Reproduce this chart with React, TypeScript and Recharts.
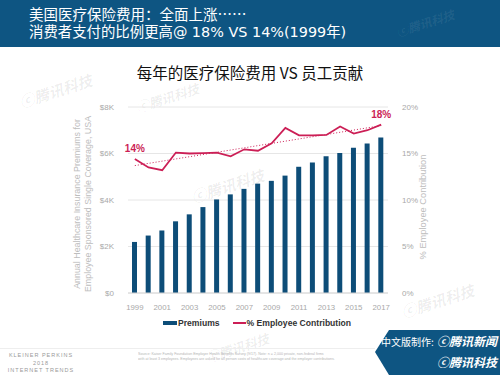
import { ComposedChart, Bar, Line, XAxis, YAxis, CartesianGrid, LabelList } from "recharts"

// values (KFF employer survey)
const years = ["1999", "2000", "2001", "2002", "2003", "2004", "2005", "2006", "2007", "2008", "2009", "2010", "2011", "2012", "2013", "2014", "2015", "2016", "2017"]
const premiums = [2196, 2471, 2689, 3083, 3383, 3695, 4024, 4242, 4479, 4704, 4824, 5049, 5429, 5615, 5884, 6025, 6251, 6435, 6690]
const employeeShare = [14.4, 13.5, 13.2, 15.1, 15.0, 15.05, 15.1, 14.7, 15.45, 15.3, 16.1, 17.75, 16.95, 16.95, 17.0, 17.9, 17.15, 17.5, 18.1]
const trendEnds = [13.7, 18.0] // dotted trend line, first and last year
const pointNotes = ["14%", "18%"]

const leftTicks = [0, 2000, 4000, 6000, 8000]
const rightTicks = [0, 5, 10, 15, 20]

const BLUE = "#0d4d78"
const RED = "#cc1f56"
const GRAY = "#a9a9a9"
const FONT = "'Liberation Sans', Arial, sans-serif"
const CJK = "'Noto Sans CJK SC', sans-serif"

const data = years.map((year, i) => ({
  year,
  premium: premiums[i],
  share: employeeShare[i],
  trend: i === 0 ? trendEnds[0] : i === years.length - 1 ? trendEnds[1] : null,
  note: i === 0 ? pointNotes[0] : i === years.length - 1 ? pointNotes[1] : "",
}))

const Watermark = ({ x, y, size = 15, color = "rgba(0,0,0,0.07)" }: any) => (
  <div style={{ position: "absolute", left: x, top: y, fontFamily: CJK, fontWeight: 700, fontStyle: "italic", fontSize: size, color, transform: "rotate(-18deg)", whiteSpace: "nowrap" }}>
    ⓒ腾讯科技
  </div>
)

const renderNote = (props: any) => {
  const { x, y, value } = props
  if (!value) return null
  return (
    <text x={x} y={y - 7} textAnchor="middle" fill={RED} fontSize={10} fontWeight={700} fontFamily={FONT}>
      {value}
    </text>
  )
}

export default function App() {
  return (
    <div style={{ position: "absolute", left: 0, top: 0, width: 500, height: 375, background: "#fff", overflow: "hidden" }}>
      {/* header band */}
      <div style={{ position: "absolute", left: 0, top: 0, width: 500, height: 47, background: "#0e5582", color: "#fff", fontSize: 14.5, lineHeight: "19px", paddingLeft: 29, paddingTop: 4, boxSizing: "border-box" }}>
        <div style={{ fontFamily: CJK }}>美国医疗保险费用：全面上涨……</div>
        <div style={{ fontFamily: "'DejaVu Sans', 'Noto Sans CJK SC', sans-serif", fontSize: 14.4 }}>消费者支付的比例更高@ 18% VS 14%(1999年)</div>
      </div>
      <Watermark x={395} y={14} size={12} color="rgba(255,255,255,0.08)" />

      <div style={{ position: "absolute", left: 0, top: 61, width: 500, textAlign: "center", fontFamily: CJK, fontSize: 15.5, color: "#111" }}>
        每年的医疗保险费用 VS 员工贡献
      </div>

      <Watermark x={18} y={80} />
      <Watermark x={135} y={88} size={13} />
      <Watermark x={190} y={175} />
      <Watermark x={400} y={290} />
      <Watermark x={205} y={338} size={13} />

      <ComposedChart
        width={500}
        height={375}
        data={data}
        margin={{ top: 107, right: 52, left: 68, bottom: 62 }}
        style={{ position: "absolute", left: 0, top: 0 }}
      >
        <CartesianGrid vertical={false} stroke="#e6e6e6" yAxisId="left" />
        <XAxis
          dataKey="year"
          interval={1}
          tickLine={false}
          axisLine={{ stroke: "#d6d6d6" }}
          tickMargin={5}
          height={20}
          tick={{ fill: GRAY, fontSize: 7.8, fontFamily: FONT }}
        />
        <YAxis
          yAxisId="left"
          domain={[0, 8000]}
          ticks={leftTicks}
          tickFormatter={(v: number) => (v === 0 ? "$0" : `$${v / 1000}K`)}
          tickLine={false}
          axisLine={false}
          tickMargin={8}
          width={60}
          tick={{ fill: GRAY, fontSize: 8, fontFamily: FONT }}
        />
        <YAxis
          yAxisId="right"
          orientation="right"
          domain={[0, 20]}
          ticks={rightTicks}
          tickFormatter={(v: number) => `${v}%`}
          tickLine={false}
          axisLine={false}
          tickMargin={8}
          width={60}
          tick={{ fill: GRAY, fontSize: 8, fontFamily: FONT, textAnchor: "start" }}
        />
        <Bar yAxisId="left" dataKey="premium" name="Premiums" fill={BLUE} barSize={5} isAnimationActive={false} />
        <Line
          yAxisId="right"
          dataKey="trend"
          connectNulls
          stroke={RED}
          strokeWidth={1}
          strokeDasharray="1 2"
          dot={false}
          activeDot={false}
          legendType="none"
          isAnimationActive={false}
        />
        <Line
          yAxisId="right"
          dataKey="share"
          name="% Employee Contribution"
          type="linear"
          stroke={RED}
          strokeWidth={1.8}
          dot={false}
          isAnimationActive={false}
        >
          <LabelList dataKey="note" content={renderNote} />
        </Line>
      </ComposedChart>

      {/* legend */}
      <div style={{ position: "absolute", left: 163, top: 318, display: "flex", alignItems: "center", fontFamily: FONT, fontSize: 8.6, fontWeight: 700, color: "#333", whiteSpace: "nowrap" }}>
        <span style={{ display: "inline-block", width: 14, height: 4, background: BLUE, marginRight: 1 }} />
        <span style={{ marginRight: 13 }}>Premiums</span>
        <span style={{ display: "inline-block", width: 13, height: 1.5, background: RED, marginRight: 1 }} />
        <span>% Employee Contribution</span>
      </div>

      {/* axis titles */}
      <div style={{ position: "absolute", left: 82, top: 204, width: 200, transform: "translate(-50%, -50%) rotate(-90deg)", textAlign: "center", fontFamily: FONT, fontSize: 8.9, lineHeight: "10.5px", color: "#bdbdbd" }}>
        Annual Healthcare Insurance Premiums for<br />Employee Sponsored Single Coverage, USA
      </div>
      <div style={{ position: "absolute", left: 423, top: 207, width: 140, transform: "translate(-50%, -50%) rotate(-90deg)", textAlign: "center", fontFamily: FONT, fontSize: 9.3, color: "#bdbdbd" }}>
        % Employee Contribution
      </div>

      {/* footer */}
      <div style={{ position: "absolute", left: 0, top: 348, width: 375, height: 1, background: "#eeeeee" }} />
      <div style={{ position: "absolute", left: 0, top: 352, width: 82, textAlign: "center", fontFamily: FONT, fontSize: 5.5, lineHeight: "7.5px", letterSpacing: 1, color: "#9a9a9a" }}>
        KLEINER PERKINS<br />2018<br />INTERNET TRENDS
      </div>
      <div style={{ position: "absolute", left: 138, top: 352, width: 270, fontFamily: FONT, fontSize: 3.6, lineHeight: "5px", color: "#b5b5b5", whiteSpace: "nowrap", overflow: "hidden" }}>
        Source: Kaiser Family Foundation Employer Health Benefits Survey (9/17). Note: n = 2,000 private, non-federal firms<br />
        with at least 3 employees. Employees are asked for all person costs of healthcare coverage and the employer contributions.
      </div>
      <svg width={500} height={375} style={{ position: "absolute", left: 0, top: 0, pointerEvents: "none" }}>
        <polygon points="389,330 500,330 500,375 389,375 375,352" fill="#0e5582" />
        <text x={381} y={346} fill="#fff" fontFamily={CJK} fontSize={10}>中文版制作:</text>
        <text x={437} y={346} fill="#fff" fontFamily={CJK} fontSize={12} fontWeight={700} fontStyle="italic">ⓒ腾讯新闻</text>
        <text x={437} y={367} fill="#fff" fontFamily={CJK} fontSize={12} fontWeight={700} fontStyle="italic">ⓒ腾讯科技</text>
      </svg>
    </div>
  )
}
